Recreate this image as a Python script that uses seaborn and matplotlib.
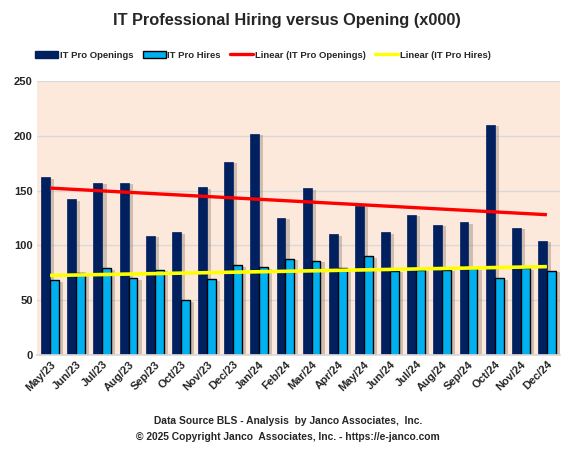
import numpy as np
import pandas as pd
import seaborn as sns
import matplotlib
matplotlib.use("Agg")
import matplotlib.pyplot as plt
import matplotlib.patheffects as pe
from matplotlib.patches import Patch
from matplotlib.lines import Line2D

months = ["May/23", "Jun/23", "Jul/23", "Aug/23", "Sep/23", "Oct/23", "Nov/23", "Dec/23",
          "Jan/24", "Feb/24", "Mar/24", "Apr/24", "May/24", "Jun/24", "Jul/24", "Aug/24",
          "Sep/24", "Oct/24", "Nov/24", "Dec/24"]
openings = [162, 142, 157, 157, 109, 112, 153, 176, 202, 125, 152, 110, 136, 112, 128, 119,
            121, 210, 116, 104]
hires = [68, 75, 79, 70, 78, 50, 69, 82, 80, 88, 86, 79, 90, 77, 78, 78, 79, 70, 79, 77]
series_names = ["IT Pro Openings", "IT Pro Hires"]
title = "IT Professional Hiring versus Opening (x000)"
footer1 = "Data Source BLS - Analysis  by Janco Associates,  Inc."
footer2 = "\u00a9 2025 Copyright Janco  Associates, Inc. - https://e-janco.com"

NAVY = "#002060"
CYAN = "#00B0F0"
BG = "#FCE9DB"

sns.set_theme(style="white")
plt.rcParams["font.family"] = ["Liberation Sans", "DejaVu Sans"]
plt.rcParams["font.weight"] = "bold"

df = pd.DataFrame({
    "month": months * 2,
    "value": openings + hires,
    "series": [series_names[0]] * len(months) + [series_names[1]] * len(months),
})

fig = plt.figure(figsize=(5.74, 4.57), dpi=100)
ax = fig.add_axes([37 / 574, 1 - 355 / 457, (560 - 37) / 574, (355 - 81) / 457])
ax.set_facecolor(BG)

sns.barplot(data=df, x="month", y="value", hue="series", order=months,
            hue_order=series_names, palette=[NAVY, CYAN], width=0.68, gap=0,
            saturation=1, ax=ax, legend=False, errorbar=None)

n = len(months)
for i, patch in enumerate(ax.patches):
    if i >= n:
        patch.set_edgecolor("black")
        patch.set_linewidth(1.0)
    else:
        patch.set_edgecolor(NAVY)
        patch.set_linewidth(0.5)
    patch.set_path_effects([pe.SimplePatchShadow(offset=(3, -1), shadow_rgbFace="#8c7b70", alpha=0.4),
                            pe.Normal()])

x = np.arange(n)
p1 = np.polyfit(x, openings, 1)
p2 = np.polyfit(x, hires, 1)
ax.plot(x, np.polyval(p1, x), color="#FF0000", lw=2.4, solid_capstyle="butt", zorder=5)
ax.plot(x, np.polyval(p2, x), color="#FFFF00", lw=2.6, solid_capstyle="butt", zorder=5)

ax.set_xlim(-0.5, n - 0.5)
ax.set_ylim(0, 250)
ax.set_yticks([0, 50, 100, 150, 200, 250])
ax.yaxis.grid(True, color="#d9d9d9", lw=1)
ax.set_axisbelow(True)
for s in ["left", "right", "top"]:
    ax.spines[s].set_visible(False)
ax.spines["bottom"].set_color("#d9d9d9")
ax.set_xlabel("")
ax.set_ylabel("")
ax.tick_params(axis="both", length=0, labelsize=8, pad=3)
for lab in ax.get_yticklabels():
    lab.set_fontweight("bold")
plt.setp(ax.get_xticklabels(), rotation=45, ha="right", rotation_mode="anchor", fontweight="bold")

fig.text(0.5, 1 - 20 / 457, title, ha="center", va="center", fontsize=11.8, fontweight="bold")

handles = [Patch(facecolor=NAVY, edgecolor=NAVY),
           Patch(facecolor=CYAN, edgecolor="black"),
           Line2D([0], [0], color="#FF0000", lw=2.4),
           Line2D([0], [0], color="#FFFF00", lw=2.4)]
labels = ["IT Pro Openings", "IT Pro Hires", "Linear (IT Pro Openings)", "Linear (IT Pro Hires)"]
fig.legend(handles, labels, loc="center", bbox_to_anchor=(263 / 574, 1 - 55 / 457), ncol=4,
           frameon=False, handlelength=2.4, handleheight=0.7, handletextpad=0.2, columnspacing=1.0,
           prop={"weight": "bold", "size": 6.8})

fig.text(288 / 574, 1 - 421 / 457, footer1, ha="center", va="center", fontsize=7.4, fontweight="bold")
fig.text(288 / 574, 1 - 437 / 457, footer2, ha="center", va="center", fontsize=7.4, fontweight="bold")

fig.savefig("out.png", dpi=100)
